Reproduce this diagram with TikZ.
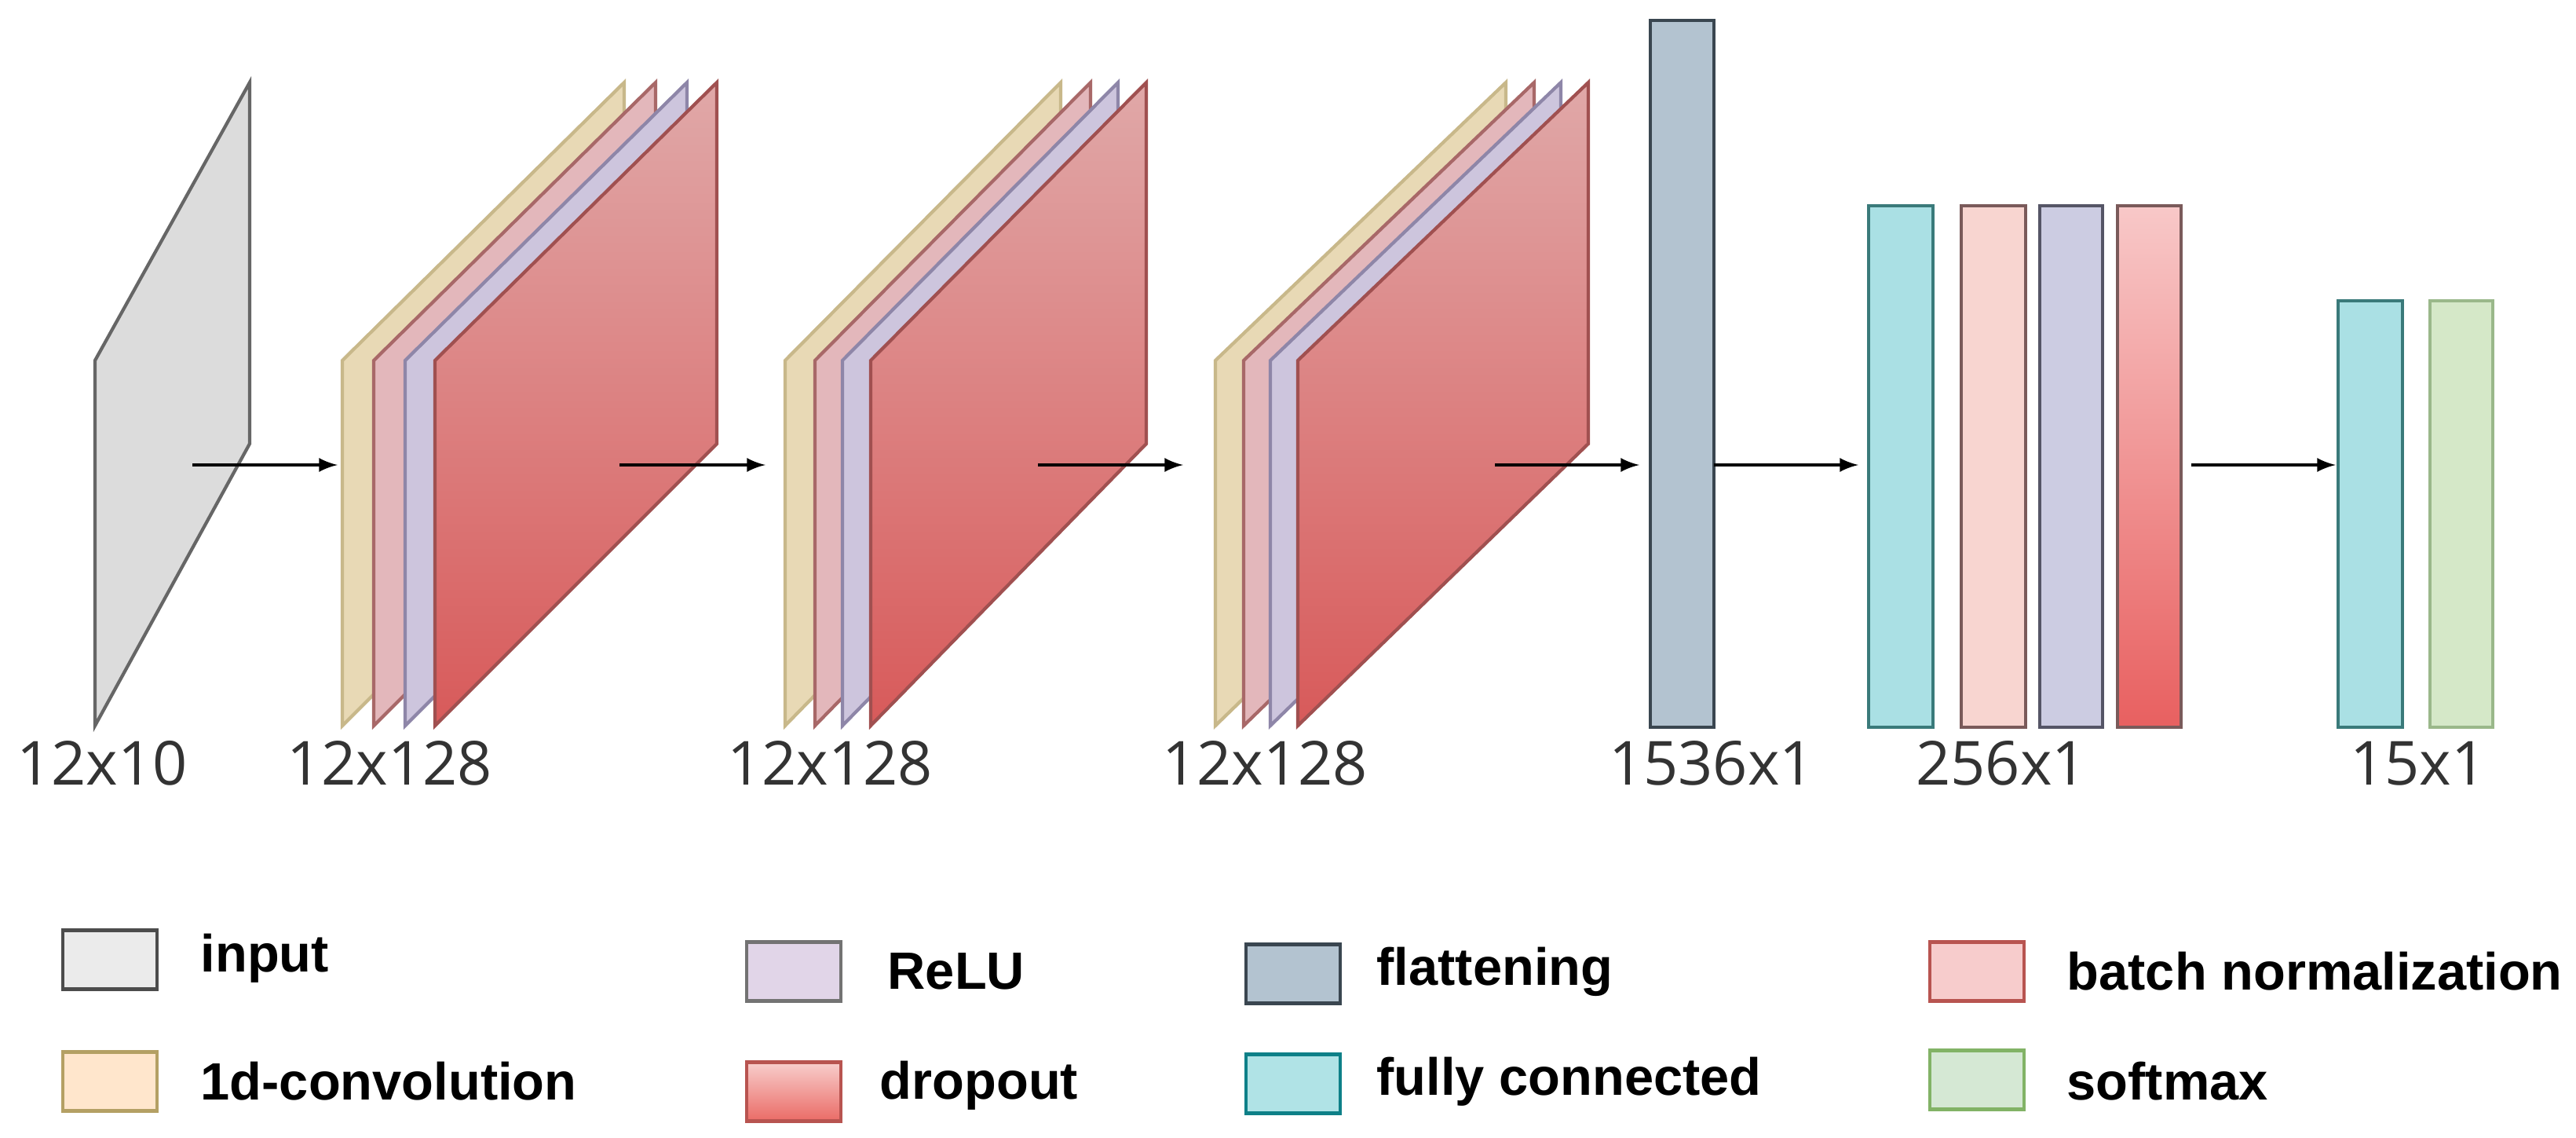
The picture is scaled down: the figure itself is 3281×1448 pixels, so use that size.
\documentclass[tikz,border=0pt]{standalone}
\usepackage{fontspec}
\setmainfont{Open Sans}
\newfontfamily\legfont{Liberation Sans}
\begin{document}
\begin{tikzpicture}[x=0.01cm,y=-0.01cm,
  lay/.style={line width=1.2pt,line join=miter},
  arr/.style={-latex,line width=1.3pt,black},
  dimlab/.style={font=\fontsize{22}{24}\selectfont,text=black!80,inner sep=0pt},
  legbox/.style={draw,line width=1.2pt,minimum width=1.2cm,minimum height=0.75cm,inner sep=0pt},
  legtext/.style={font=\legfont\bfseries\fontsize{19}{21}\selectfont,anchor=west,inner sep=0pt}]
\fill[white] (0,0) rectangle (3281,1448);
\definecolor{inF}{HTML}{DCDCDC}\definecolor{inD}{HTML}{666666}
\definecolor{cvF}{HTML}{E8D9B5}\definecolor{cvD}{HTML}{C8B88A}
\definecolor{bnF}{HTML}{E3B7BB}\definecolor{bnD}{HTML}{A86868}
\definecolor{reF}{HTML}{CDC5DD}\definecolor{reD}{HTML}{8E86A8}
\definecolor{doT}{HTML}{E0A8A8}\definecolor{doB}{HTML}{D85A5A}\definecolor{doD}{HTML}{A05050}
\definecolor{flF}{HTML}{B3C3D0}\definecolor{flD}{HTML}{3A4650}
\definecolor{fcF}{HTML}{AAE0E4}\definecolor{fcD}{HTML}{3A7A7A}
\definecolor{bbF}{HTML}{F8D5D0}\definecolor{bbD}{HTML}{7A5A5A}
\definecolor{rbF}{HTML}{CCCCE2}\definecolor{rbD}{HTML}{555566}
\definecolor{dbT}{HTML}{F8C8C8}\definecolor{dbB}{HTML}{E86060}
\definecolor{smF}{HTML}{D5E8C8}\definecolor{smD}{HTML}{9AB88A}
\definecolor{kRe}{RGB}{225,213,232}
\definecolor{kBnF}{RGB}{247,204,204}\definecolor{kBnD}{RGB}{184,84,80}
\definecolor{kCvF}{RGB}{255,230,204}\definecolor{kCvD}{RGB}{180,160,100}
\definecolor{kDoT}{RGB}{248,206,204}\definecolor{kDoB}{RGB}{234,107,102}
\definecolor{kFcF}{RGB}{176,227,230}\definecolor{kFcD}{RGB}{14,128,136}
\definecolor{kSmF}{RGB}{213,232,212}\definecolor{kSmD}{RGB}{130,179,102}
\newcommand{\plate}[4]{% left x, width, fill opts, draw color
  \path[lay,#3,draw=#4] (#1,459)--({#1+#2},105)--({#1+#2},565)--(#1,924)--cycle;}
% input
\plate{121}{197}{fill=inF}{inD}
% block 1
\plate{436}{359}{fill=cvF}{cvD}
\plate{476}{359}{fill=bnF}{bnD}
\plate{516}{359}{fill=reF}{reD}
\plate{554}{359}{top color=doT,bottom color=doB}{doD}
% block 2
\plate{1000}{351}{fill=cvF}{cvD}
\plate{1038}{351}{fill=bnF}{bnD}
\plate{1073}{351}{fill=reF}{reD}
\plate{1109}{351}{top color=doT,bottom color=doB}{doD}
% block 3
\plate{1548}{370}{fill=cvF}{cvD}
\plate{1584}{370}{fill=bnF}{bnD}
\plate{1618}{370}{fill=reF}{reD}
\plate{1653}{370}{top color=doT,bottom color=doB}{doD}
% bars
\draw[lay,fill=flF,draw=flD] (2102,26) rectangle (2183,926);
\draw[lay,fill=fcF,draw=fcD] (2380,262) rectangle (2462,926);
\draw[lay,fill=bbF,draw=bbD] (2498,262) rectangle (2580,926);
\draw[lay,fill=rbF,draw=rbD] (2598,262) rectangle (2678,926);
\draw[lay,top color=dbT,bottom color=dbB,draw=bbD] (2697,262) rectangle (2778,926);
\draw[lay,fill=fcF,draw=fcD] (2978,383) rectangle (3060,926);
\draw[lay,fill=smF,draw=smD] (3095,383) rectangle (3175,926);
% arrows
\coordinate (a1) at (245,592); \coordinate (b1) at (430,592);
\coordinate (a2) at (789,592); \coordinate (b2) at (975,592);
\coordinate (a3) at (1322,592); \coordinate (b3) at (1507,592);
\coordinate (a4) at (1904,592); \coordinate (b4) at (2088,592);
\coordinate (a5) at (2183,592); \coordinate (b5) at (2367,592);
\coordinate (a6) at (2791,592); \coordinate (b6) at (2975,592);
\foreach \i in {1,...,6} \draw[arr] (a\i) -- (b\i);
% labels
\node[dimlab] (l1) at (130,972) {12x10};
\node[dimlab] (l2) at (496,972) {12x128};
\node[dimlab] (l3) at (1057,972) {12x128};
\node[dimlab] (l4) at (1611,972) {12x128};
\node[dimlab] (l5) at (2180,972) {1536x1};
\node[dimlab] (l6) at (2549,972) {256x1};
\node[dimlab] (l7) at (3080,972) {15x1};
% legend
\node[legbox,fill=black!8,draw=black!70] (k1) at (140,1222) {};
\node[legtext] at (255,1220) {input};
\node[legbox,fill=kRe,draw=black!55] (k2) at (1011,1237) {};
\node[legtext] at (1130,1237) {ReLU};
\node[legbox,fill=flF,draw=flD] (k3) at (1647,1240) {};
\node[legtext] at (1753,1237) {flattening};
\node[legbox,fill=kBnF,draw=kBnD] (k4) at (2518,1237) {};
\node[legtext] at (2632,1237) {batch normalization};
\node[legbox,fill=kCvF,draw=kCvD] (k5) at (140,1377) {};
\node[legtext] at (255,1377) {1d-convolution};
\node[legbox,top color=kDoT,bottom color=kDoB,draw=kBnD] (k6) at (1011,1390) {};
\node[legtext] at (1120,1382) {dropout};
\node[legbox,fill=kFcF,draw=kFcD] (k7) at (1647,1380) {};
\node[legtext] at (1753,1377) {fully connected};
\node[legbox,fill=kSmF,draw=kSmD] (k8) at (2518,1375) {};
\node[legtext] at (2632,1377) {softmax};
\end{tikzpicture}
\end{document}
